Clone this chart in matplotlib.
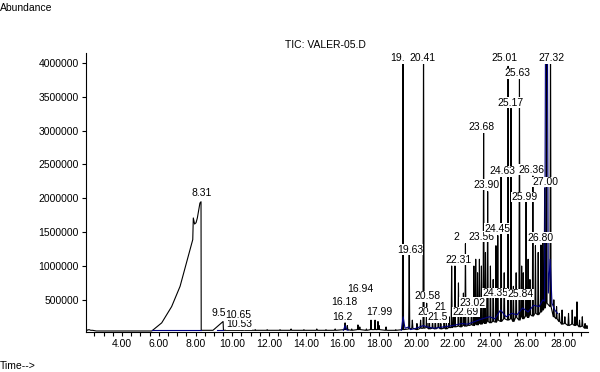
import matplotlib
matplotlib.use("Agg")
import matplotlib.pyplot as plt
from matplotlib.ticker import MultipleLocator, FixedLocator

plt.rcParams['font.family'] = ['Liberation Sans', 'DejaVu Sans']
plt.rcParams['font.size'] = 7.5

M = 1e6

# solvent front (big ramp ending at 8.31)
front_t = [5.62, 6.16, 6.70, 7.16, 7.55, 7.85, 7.88, 7.95, 8.03, 8.10, 8.24, 8.30, 8.31]
front_a = [0.04, 0.16, 0.40, 0.70, 1.09, 1.39, 1.71, 1.62, 1.64, 1.71, 1.93, 1.95, 0.05]

# start of run, before the front
start_t = [2.02, 2.06, 2.10, 2.20, 2.30, 2.40, 2.60, 3.00, 4.00, 5.00, 5.62]
start_a = [0.05, 0.07, 0.05, 0.06, 0.05, 0.05, 0.04, 0.04, 0.04, 0.04, 0.04]

# ramp peak at 9.50
ramp_t = [8.31, 8.95, 9.50, 9.52]
ramp_a = [0.05, 0.05, 0.18, 0.05]

# peaks: retention time, apex, local floor (millions)
peak_t = [10.53, 10.65, 11.25, 11.90, 12.60, 13.20, 13.90, 14.60, 15.10, 15.60,
          16.14, 16.26, 16.50, 16.84, 16.94, 17.30, 17.55, 17.77, 17.93, 17.99,
          18.37, 18.90, 19.29, 19.63, 19.80, 20.05, 20.25, 20.41, 20.58, 20.72,
          20.90, 21.05, 21.22, 21.35, 21.53, 21.65, 21.80, 21.94, 22.05, 22.12,
          22.31, 22.45, 22.58, 22.69, 22.85, 23.02, 23.15, 23.25, 23.35, 23.45,
          23.56, 23.68, 23.78, 23.90, 24.05, 24.20, 24.35, 24.45, 24.63, 24.80,
          25.01, 25.17, 25.30, 25.45, 25.63, 25.75, 25.84, 25.99, 26.10, 26.20,
          26.36, 26.50, 26.65, 26.80, 26.90, 27.00, 27.10, 27.32, 27.50, 27.65,
          27.80, 27.95, 28.10, 28.30, 28.50, 28.65, 28.76, 28.90, 29.05, 29.20,
          29.30]
peak_a = [0.06, 0.09, 0.06, 0.06, 0.06, 0.07, 0.06, 0.07, 0.06, 0.07,
          0.16, 0.12, 0.07, 0.13, 0.10, 0.07, 0.20, 0.20, 0.18, 0.12,
          0.10, 0.06, 4.60, 1.20, 0.20, 0.15, 0.20, 4.60, 0.45, 0.30,
          0.20, 0.25, 0.30, 0.15, 0.20, 0.18, 0.25, 1.00, 0.30, 1.00,
          0.75, 0.30, 0.60, 1.33, 0.40, 0.50, 1.00, 1.10, 0.90, 1.10,
          1.00, 2.97, 1.20, 2.10, 1.00, 0.80, 1.30, 1.45, 2.33, 0.90,
          3.95, 3.33, 0.70, 0.90, 3.76, 1.00, 0.90, 1.95, 1.10, 0.80,
          2.33, 1.30, 1.20, 1.31, 1.40, 2.15, 4.60, 4.60, 0.50, 0.40,
          0.30, 0.35, 0.25, 0.30, 0.35, 0.25, 0.47, 0.20, 0.25, 0.15,
          0.12]
floor_a = [0.05, 0.05, 0.05, 0.05, 0.05, 0.05, 0.05, 0.05, 0.05, 0.05,
           0.06, 0.06, 0.05, 0.06, 0.06, 0.05, 0.06, 0.06, 0.06, 0.06,
           0.05, 0.05, 0.06, 0.07, 0.08, 0.06, 0.08, 0.08, 0.09, 0.07,
           0.08, 0.07, 0.09, 0.07, 0.08, 0.07, 0.09, 0.09, 0.10, 0.10,
           0.11, 0.10, 0.12, 0.11, 0.12, 0.13, 0.12, 0.14, 0.13, 0.15,
           0.14, 0.16, 0.15, 0.18, 0.16, 0.18, 0.17, 0.20, 0.18, 0.22,
           0.20, 0.22, 0.18, 0.24, 0.20, 0.25, 0.22, 0.26, 0.24, 0.28,
           0.26, 0.30, 0.28, 0.32, 0.35, 0.38, 0.45, 0.40, 0.25, 0.22,
           0.18, 0.14, 0.15, 0.12, 0.14, 0.12, 0.13, 0.10, 0.11, 0.08,
           0.08]

# blue integration baselines
base1_t = [5.62, 8.31]
base1_a = [0.05, 0.05]
base2_t = [9.15, 9.50]
base2_a = [0.05, 0.05]
base3_t = [16.05, 16.14, 16.22, 16.30]
base3_a = [0.05, 0.12, 0.06, 0.05]
base4_t = [19.20, 19.30, 19.40, 19.60, 19.70, 20.00, 20.40, 20.60, 21.00, 21.50,
           22.00, 22.50, 22.80, 23.20, 23.60, 24.00, 24.30, 24.60, 24.90, 25.20,
           25.50, 25.80, 26.10, 26.40, 26.70, 26.90, 27.00, 27.05, 27.15, 27.20,
           27.30, 27.40, 27.55, 27.70]
base4_a = [0.05, 0.25, 0.08, 0.10, 0.06, 0.08, 0.12, 0.10, 0.08, 0.10,
           0.12, 0.15, 0.14, 0.18, 0.22, 0.25, 0.22, 0.35, 0.25, 0.30,
           0.28, 0.38, 0.32, 0.42, 0.40, 0.50, 0.48, 4.60, 4.60, 0.60,
           1.10, 0.45, 0.35, 0.30]

# peak labels as they show on the plot: text, time, abundance (millions)
lab_text = ["8.31", "9.5", "10.53", "10.65", "16.2", "16.18", "16.94", "17.99",
            "19.", "20.41", "19.63", "20", "21.5", "21", "20.58",
            "2", "22.31", "22.69", "23.02", "23.56", "23.68", "23.90",
            "24.35", "25.84", "24.45", "24.63", "25.01", "25.17", "25.63",
            "25.99", "26.36", "26.80", "27.00", "27.32"]
lab_t = [8.35, 9.28, 10.37, 10.31, 15.97, 16.08, 16.95, 17.99,
         19.00, 20.33, 19.67, 20.38, 21.20, 21.31, 20.60,
         22.18, 22.29, 22.72, 23.05, 23.54, 23.54, 23.86,
         24.30, 25.71, 24.41, 24.68, 24.79, 25.12, 25.50,
         25.93, 26.26, 26.80, 27.02, 27.40]
lab_a = [2.08, 0.31, 0.14, 0.28, 0.25, 0.47, 0.66, 0.32,
         4.07, 4.07, 1.24, 0.32, 0.24, 0.40, 0.55,
         1.43, 1.09, 0.32, 0.46, 1.43, 3.05, 2.20,
         0.60, 0.58, 1.55, 2.40, 4.07, 3.41, 3.85,
         2.02, 2.42, 1.42, 2.24, 4.07]

# build the trace
w = 0.03
trace_t = list(start_t) + list(front_t) + list(ramp_t)
trace_a = list(start_a) + list(front_a) + list(ramp_a)
for t, a, f in zip(peak_t, peak_a, floor_a):
    trace_t += [t - w, t, t + w]
    trace_a += [f, a, f]

fig = plt.figure(figsize=(6, 3.72), dpi=100)
ax = fig.add_axes([86 / 600, 1 - 332 / 372, (588 - 86) / 600, (332 - 53) / 372])

ax.plot(trace_t, [a * M for a in trace_a], color='black', lw=0.8, zorder=2)
for bt, ba in [(base1_t, base1_a), (base2_t, base2_a), (base3_t, base3_a), (base4_t, base4_a)]:
    ax.plot(bt, [a * M for a in ba], color='#000080', lw=0.8, zorder=3)

for i, (s, t, a) in enumerate(zip(lab_text, lab_t, lab_a)):
    ax.text(t, a * M, s, ha='center', va='center', fontsize=7.5, zorder=5 + i,
            bbox=dict(facecolor='white', edgecolor='none', pad=0.3))

ax.set_xlim(2.04, 29.36)
ax.set_ylim(0.025 * M, 4.147 * M)

ax.spines['top'].set_visible(False)
ax.spines['right'].set_visible(False)
ax.xaxis.set_major_locator(FixedLocator([4, 6, 8, 10, 12, 14, 16, 18, 20, 22, 24, 26, 28]))
ax.xaxis.set_minor_locator(MultipleLocator(0.5))
ax.xaxis.set_major_formatter(plt.FuncFormatter(lambda v, p: "%.2f" % v))
ax.yaxis.set_major_locator(FixedLocator([500000 * k for k in range(1, 9)]))
ax.yaxis.set_major_formatter(plt.FuncFormatter(lambda v, p: "%d" % v))
ax.tick_params(axis='both', which='major', length=3, width=0.8, labelsize=7.5, pad=2)
ax.tick_params(axis='x', which='minor', length=3, width=0.8)

fig.text(325 / 600, 1 - 45 / 372, "TIC: VALER-05.D", ha='center', va='center', fontsize=7.5)
fig.text(0.0, 1 - 8 / 372, "Abundance", ha='left', va='center', fontsize=7.5)
fig.text(0.0, 1 - 366 / 372, "Time-->", ha='left', va='center', fontsize=7.5)

fig.savefig("out.png", dpi=100)
